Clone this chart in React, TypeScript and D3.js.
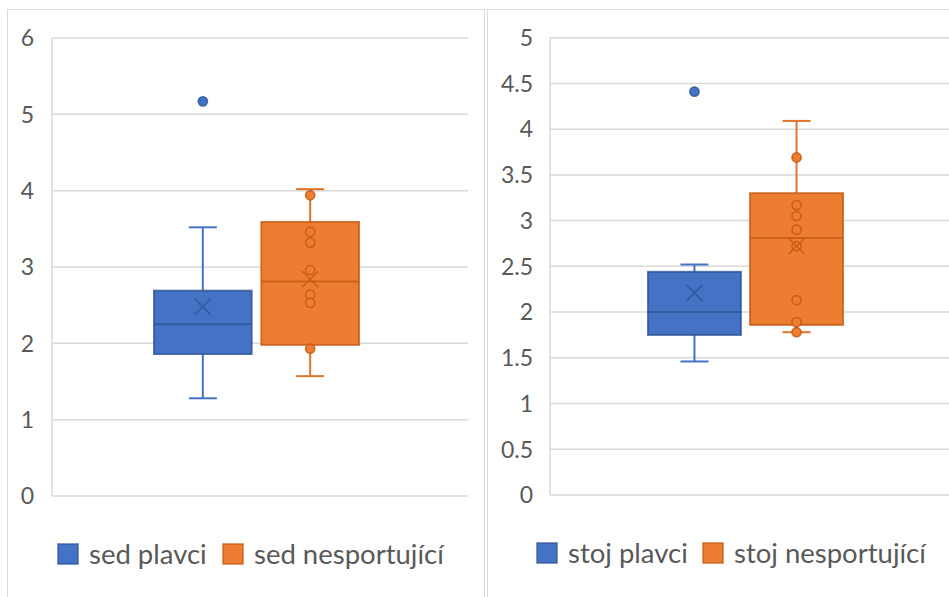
import React from "react";
import * as d3 from "d3";

// ---- data ----
const sedSeries = ["sed plavci", "sed nesportující"];
const sedLow = [1.28, 1.57];
const sedQ1 = [1.86, 1.98];
const sedMedian = [2.25, 2.81];
const sedQ3 = [2.69, 3.59];
const sedHigh = [3.52, 4.02];
const sedMean = [2.48, 2.84];
const sedPoints = [[5.17], [3.94, 3.46, 3.32, 2.96, 2.64, 2.53, 1.93]];
const sedTicks = [0, 1, 2, 3, 4, 5, 6];

const stojSeries = ["stoj plavci", "stoj nesportující"];
const stojLow = [1.46, 1.78];
const stojQ1 = [1.75, 1.86];
const stojMedian = [2.0, 2.81];
const stojQ3 = [2.44, 3.3];
const stojHigh = [2.52, 4.09];
const stojMean = [2.21, 2.72];
const stojPoints = [[4.41], [3.69, 3.17, 3.05, 2.9, 2.72, 2.13, 1.89, 1.78]];
const stojTicks = [0, 0.5, 1, 1.5, 2, 2.5, 3, 3.5, 4, 4.5, 5];

// ---- styles ----
const fills = ["#4472c4", "#ed7d31"];
const darks = ["#2f5597", "#c55a11"];
const whiskerColors = ["#4472c4", "#e0742a"];
const textColor = "#595959";
const gridColor = "#d9d9d9";
const FONT = "Lato, 'Open Sans', sans-serif";

type PanelProps = {
  series: string[];
  low: number[];
  q1: number[];
  median: number[];
  q3: number[];
  high: number[];
  mean: number[];
  points: number[][];
  ticks: number[];
  frame: { x: number; y: number; w: number; h: number };
  plot: { left: number; right: number; top: number; bottom: number };
  group: [number, number];
  tickRight: number;
  legend: { y: number; x: number[] };
};

function Panel(p: PanelProps) {
  const maxV = d3.max(p.ticks) as number;
  const y = d3.scaleLinear().domain([0, maxV]).range([p.plot.bottom, p.plot.top]);
  const x = d3.scaleBand<string>().domain(p.series).range(p.group).paddingInner(0.09);
  const bw = x.bandwidth();
  const fmt = (v: number) => String(v);
  const xs = 8;
  return (
    <g>
      <rect x={p.frame.x} y={p.frame.y} width={p.frame.w} height={p.frame.h} fill="#fff" stroke={gridColor} strokeWidth={1} />
      {p.ticks.map((t) => (
        <g key={t}>
          <line x1={p.plot.left} x2={p.plot.right} y1={y(t)} y2={y(t)} stroke={gridColor} strokeWidth={1.5} />
          <text x={p.tickRight} y={y(t)} dy="0.36em" textAnchor="end" fontSize={23} fill={textColor} fontFamily={FONT}>
            {fmt(t)}
          </text>
        </g>
      ))}
      <line x1={p.plot.left} x2={p.plot.left} y1={p.plot.top} y2={p.plot.bottom} stroke={gridColor} strokeWidth={1.5} />
      {p.series.map((s, i) => {
        const x0 = x(s) as number;
        const cx = x0 + bw / 2;
        const capW = 14;
        return (
          <g key={s}>
            <line x1={cx} x2={cx} y1={y(p.high[i])} y2={y(p.q3[i])} stroke={whiskerColors[i]} strokeWidth={2} />
            <line x1={cx} x2={cx} y1={y(p.q1[i])} y2={y(p.low[i])} stroke={whiskerColors[i]} strokeWidth={2} />
            <line x1={cx - capW} x2={cx + capW} y1={y(p.high[i])} y2={y(p.high[i])} stroke={whiskerColors[i]} strokeWidth={2} />
            <line x1={cx - capW} x2={cx + capW} y1={y(p.low[i])} y2={y(p.low[i])} stroke={whiskerColors[i]} strokeWidth={2} />
            <rect x={x0} y={y(p.q3[i])} width={bw} height={y(p.q1[i]) - y(p.q3[i])} fill={fills[i]} stroke={darks[i]} strokeWidth={2} strokeOpacity={0.8} />
            <line x1={x0} x2={x0 + bw} y1={y(p.median[i])} y2={y(p.median[i])} stroke={darks[i]} strokeWidth={2} strokeOpacity={0.8} />
            {p.points[i].map((v, j) => (
              <circle key={j} cx={cx} cy={y(v)} r={4.6} fill={fills[i]} stroke={darks[i]} strokeWidth={1.6} strokeOpacity={0.85} />
            ))}
            <path
              d={`M${cx - xs},${y(p.mean[i]) - xs}L${cx + xs},${y(p.mean[i]) + xs}M${cx + xs},${y(p.mean[i]) - xs}L${cx - xs},${y(p.mean[i]) + xs}`}
              stroke={darks[i]}
              strokeWidth={1.6}
              strokeOpacity={0.85}
              fill="none"
            />
          </g>
        );
      })}
      {p.series.map((s, i) => (
        <g key={"lg" + s}>
          <rect x={p.legend.x[i]} y={p.legend.y} width={20} height={20} fill={fills[i]} stroke={darks[i]} strokeWidth={1.5} strokeOpacity={0.8} />
          <text x={p.legend.x[i] + 31} y={p.legend.y + 20} fontSize={27.5} fill={textColor} fontFamily={FONT}>
            {s}
          </text>
        </g>
      ))}
    </g>
  );
}

export default function App() {
  return (
    <div style={{ position: "fixed", left: 0, top: 0, width: 949, height: 597, background: "#fff" }}>
      <svg width={949} height={597} style={{ display: "block" }}>
        <Panel
          series={sedSeries}
          low={sedLow}
          q1={sedQ1}
          median={sedMedian}
          q3={sedQ3}
          high={sedHigh}
          mean={sedMean}
          points={sedPoints}
          ticks={sedTicks}
          frame={{ x: 7.5, y: 9.5, w: 477, h: 600 }}
          plot={{ left: 52, right: 468, top: 38, bottom: 496 }}
          group={[154, 359]}
          tickRight={34}
          legend={{ y: 544, x: [58, 223] }}
        />
        <Panel
          series={stojSeries}
          low={stojLow}
          q1={stojQ1}
          median={stojMedian}
          q3={stojQ3}
          high={stojHigh}
          mean={stojMean}
          points={stojPoints}
          ticks={stojTicks}
          frame={{ x: 487.5, y: 9.5, w: 470, h: 600 }}
          plot={{ left: 550, right: 949, top: 37.7, bottom: 495 }}
          group={[648, 843]}
          tickRight={533}
          legend={{ y: 543, x: [537, 703] }}
        />
      </svg>
    </div>
  );
}
